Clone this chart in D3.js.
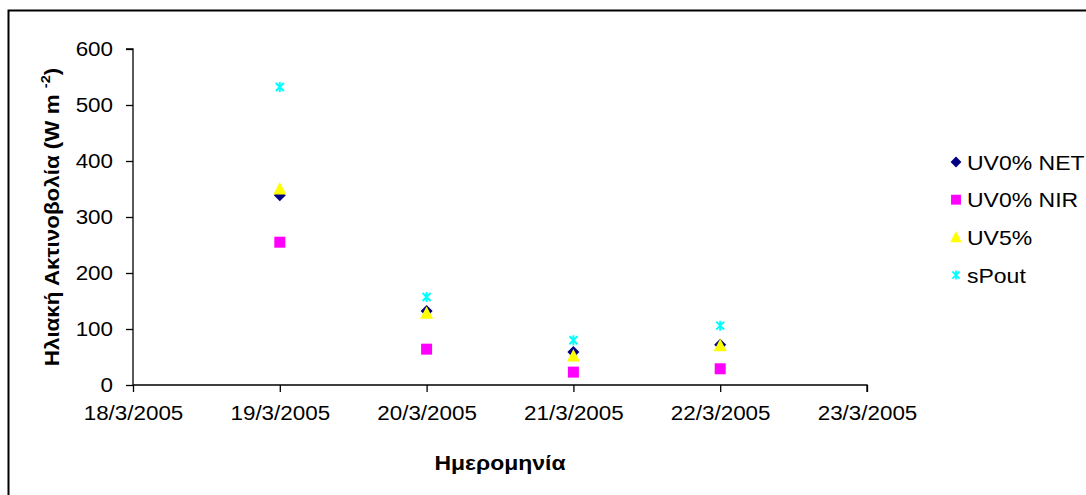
<!DOCTYPE html>
<html>
<head>
<meta charset="utf-8">
<script src="https://cdn.jsdelivr.net/npm/d3@7"></script>
<style>
  html, body { margin: 0; padding: 0; background: #fff; }
  svg { display: block; font-family: "Liberation Sans", Arial, sans-serif; }
</style>
</head>
<body>
<svg id="chart" width="1086" height="495"></svg>
<script>
// Measurement dates and values (W m^-2)
const dates = ["2005-03-19", "2005-03-20", "2005-03-21", "2005-03-22"];
const uv0Net = [339, 132, 59, 72];
const uv0Nir = [255, 64, 23, 29];
const uv5 = [350, 128, 52, 70];
const sPout = [532, 157, 80, 106];

const seriesNames = ["UV0% NET", "UV0% NIR", "UV5%", "sPout"];
const seriesColors = ["#000080", "#FF00FF", "#FFFF00", "#00FFFF"];
const seriesShapes = ["diamond", "square", "triangle", "asterisk"];

const xDomain = ["2005-03-18", "2005-03-23"];
const yTicks = [0, 100, 200, 300, 400, 500, 600];

const FONT = "Liberation Sans, Arial, sans-serif";
const STRETCH = 1.12; // text is drawn slightly wide

const parse = d3.timeParse("%Y-%m-%d");
const svg = d3.select("#chart");

// widen a plain text element horizontally by STRETCH
function widen(sel) {
  sel.each(function () {
    const w = this.getComputedTextLength();
    d3.select(this)
      .attr("textLength", w * STRETCH)
      .attr("lengthAdjust", "spacingAndGlyphs");
  });
}

// outer chart frame
svg.append("rect")
  .attr("x", 8.5).attr("y", 10.5)
  .attr("width", 1200).attr("height", 600)
  .attr("fill", "none").attr("stroke", "#000").attr("stroke-width", 2);

const plot = { left: 133, right: 867, top: 49, bottom: 385 };

const x = d3.scaleTime()
  .domain(xDomain.map(parse))
  .range([plot.left, plot.right]);
const y = d3.scaleLinear()
  .domain([0, 600])
  .range([plot.bottom, plot.top]);

// y axis
const yAxis = svg.append("g")
  .attr("transform", `translate(${plot.left},0)`)
  .call(d3.axisLeft(y).tickValues(yTicks).tickSize(7).tickPadding(13).tickFormat(d3.format("d")));
yAxis.attr("font-family", FONT).attr("font-size", 20);
yAxis.selectAll("text").attr("fill", "#000").call(widen);
yAxis.selectAll("line, path").attr("stroke", "#000").attr("stroke-width", 1.3);
yAxis.select(".domain").attr("d", `M-7,${plot.top}H0V${plot.bottom}`);

// x axis
const xAxis = svg.append("g")
  .attr("transform", `translate(0,${plot.bottom})`)
  .call(d3.axisBottom(x)
    .ticks(d3.timeDay.every(1))
    .tickSize(7).tickPadding(14)
    .tickFormat(d3.timeFormat("%-d/%-m/%Y")));
xAxis.attr("font-family", FONT).attr("font-size", 20);
xAxis.selectAll("text").attr("fill", "#000").call(widen);
xAxis.selectAll("line, path").attr("stroke", "#000").attr("stroke-width", 1.3);
xAxis.select(".domain").attr("d", `M${plot.left},0H${plot.right}V7`);

// axis titles
const yTitle = svg.append("text")
  .attr("transform", `translate(59,${(plot.top + plot.bottom) / 2 + 0}) rotate(-90) scale(${STRETCH},1)`)
  .attr("text-anchor", "middle")
  .attr("font-size", 20).attr("font-weight", "bold");
yTitle.append("tspan").text("Ηλιακή Ακτινοβολία (W m ");
yTitle.append("tspan").attr("font-size", 13).attr("dy", -9).text("-2");
yTitle.append("tspan").attr("dy", 9).text(")");

svg.append("text")
  .attr("transform", `translate(${(plot.left + plot.right) / 2},470) scale(${STRETCH},1)`)
  .attr("text-anchor", "middle")
  .attr("font-size", 20.5).attr("font-weight", "bold")
  .text("Ημερομηνία");

// marker shapes
function markerPath(shape) {
  switch (shape) {
    case "diamond": return "M0,-6L6,0L0,6L-6,0Z";
    case "square": return "M-5.5,-5.5H5.5V5.5H-5.5Z";
    case "triangle": return "M0,-7L6.5,5.5H-6.5Z";
    case "asterisk": return "M-4,-4L4,4M-4,4L4,-4M0,-5V5";
  }
}
function drawMarker(g, shape, color) {
  const p = g.append("path").attr("d", markerPath(shape));
  if (shape === "asterisk") {
    p.attr("fill", "none").attr("stroke", color).attr("stroke-width", 2);
  } else {
    p.attr("fill", color);
  }
}

const allSeries = [uv0Net, uv0Nir, uv5, sPout];
allSeries.forEach((vals, i) => {
  const g = svg.append("g");
  vals.forEach((v, j) => {
    const m = g.append("g")
      .attr("transform", `translate(${x(parse(dates[j]))},${y(v)})`);
    drawMarker(m, seriesShapes[i], seriesColors[i]);
  });
});

// legend
const legend = svg.append("g");
seriesNames.forEach((name, i) => {
  const row = legend.append("g").attr("transform", `translate(956,${162 + i * 37.7})`);
  const m = row.append("g").attr("transform", "scale(0.9)");
  drawMarker(m, seriesShapes[i], seriesColors[i]);
  row.append("text")
    .attr("transform", `translate(11,7.5) scale(${STRETCH + 0.03},1)`)
    .attr("font-size", 20)
    .text(name);
});
</script>
</body>
</html>
